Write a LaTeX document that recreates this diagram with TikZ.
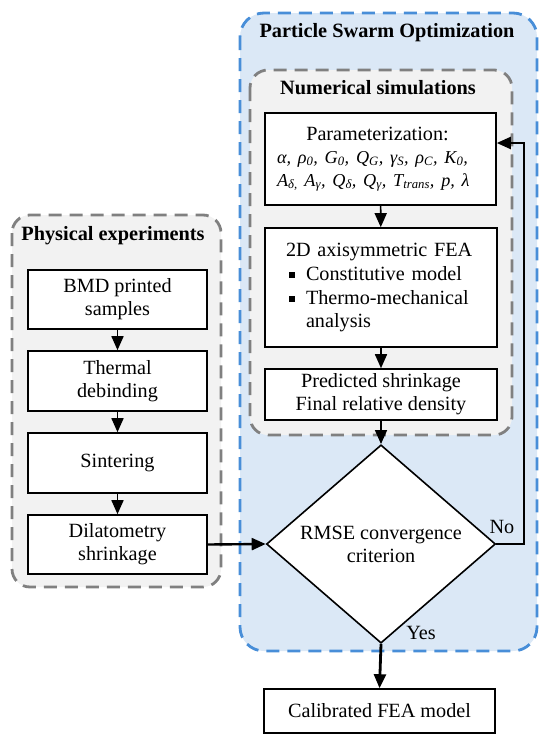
\documentclass[tikz,border=0pt]{standalone}
\usepackage{fontspec}
\setmainfont{Liberation Serif}
\usetikzlibrary{shapes.geometric,arrows.meta}
\definecolor{bluefill}{RGB}{219,232,246}
\definecolor{blueline}{RGB}{72,142,216}
\definecolor{grayfill}{RGB}{242,242,242}
\definecolor{grayline}{RGB}{128,128,128}
\newcommand{\sqbul}{\rule[3pt]{6pt}{6pt}\hspace{11pt}}
\begin{document}
\begin{tikzpicture}[x=1pt,y=-1pt,
  every node/.style={font=\fontsize{20.2}{23}\selectfont},
  box/.style={draw,line width=1.6pt,fill=white,inner sep=0pt,align=center},
  ttl/.style={font=\fontsize{20.3}{24}\selectfont\bfseries,inner sep=0pt},
  lbl/.style={inner sep=0pt},
  arr/.style={line width=1.6pt,-{Triangle[length=14pt,width=12pt]}},
  container/.style={line width=2.8pt,dash pattern=on 13pt off 8pt},
]
\useasboundingbox (0,0) rectangle (550,742);
% containers
\draw[container,draw=blueline,fill=bluefill,rounded corners=24pt] (240,13) rectangle (537,651);
\draw[container,draw=grayline,fill=grayfill,rounded corners=18pt] (250,70) rectangle (512,435);
\draw[container,draw=grayline,fill=grayfill,rounded corners=18pt] (12,215) rectangle (221,587);
% titles
\node[ttl] (tpso) at (387,33) {Particle Swarm Optimization};
\node[ttl] (tnum) at (378,88) {Numerical simulations};
\node[ttl] (tphy) at (113,236) {Physical experiments};
% numerical simulation boxes
\node[box,minimum width=231pt,minimum height=92pt,text width=207pt,align=left] (param) at (380.5,159)
  {\makebox[207pt]{\hspace*{-6pt}Parameterization:}\\[1pt]
   \fontsize{18.2}{22}\selectfont\itshape α, ρ\textsubscript{0}, G\textsubscript{0}, Q\textsubscript{G}, γ\textsubscript{S}, ρ\textsubscript{C}, K\textsubscript{0},\\
   \fontsize{18.2}{22}\selectfont\itshape A\textsubscript{δ,} A\textsubscript{γ}, Q\textsubscript{δ}, Q\textsubscript{γ}, T\textsubscript{trans}, p, λ};
\node[box,minimum width=232pt,minimum height=119pt,text width=190pt,align=left,fill=white] (fea) at (381,287.5)
  {2D axisymmetric FEA\\[1pt]
   \hspace*{3pt}\sqbul Constitutive model\\[1pt]
   \hspace*{3pt}\sqbul Thermo-mechanical\\
   \hspace*{20pt}analysis};
\node[box,minimum width=232pt,minimum height=51pt] (pred) at (381,394.5)
  {Predicted shrinkage\\Final relative density};
% decision
\node[box,shape=diamond,minimum width=229pt,minimum height=165pt] (dia) at (381,544)
  {RMSE convergence\\criterion};
\node[box,minimum width=231pt,minimum height=44pt] (calib) at (379.5,711) {Calibrated FEA model};
% physical experiments boxes
\node[box,minimum width=179pt,minimum height=59pt] (bmd) at (117.5,299.5) {BMD printed\\samples};
\node[box,minimum width=179pt,minimum height=60pt] (therm) at (117.5,381) {Thermal\\debinding};
\node[box,minimum width=179pt,minimum height=60pt] (sint) at (117.5,463) {Sintering};
\node[box,minimum width=179pt,minimum height=59pt] (dil) at (117.5,544.5) {Dilatometry\\shrinkage};
% labels
\node[lbl] (no) at (502,527) {No};
\node[lbl] (yes) at (421,633) {Yes};
% connectors
\draw[arr] (param) -- (fea);
\draw[arr] (fea) -- (pred);
\draw[arr] (pred) -- (dia);
\draw[arr] (bmd) -- (therm);
\draw[arr] (therm) -- (sint);
\draw[arr] (sint) -- (dil);
\draw[arr,line width=2.4pt] (dil.east) -- (dia.west);
\draw[arr,line width=2.8pt] (dia.south) -- (calib.north);
\coordinate (fbtop) at (524,143);
\draw[arr,line width=2.2pt] (dia.east) -| (fbtop) -- (param.east |- fbtop);
\end{tikzpicture}
\end{document}
